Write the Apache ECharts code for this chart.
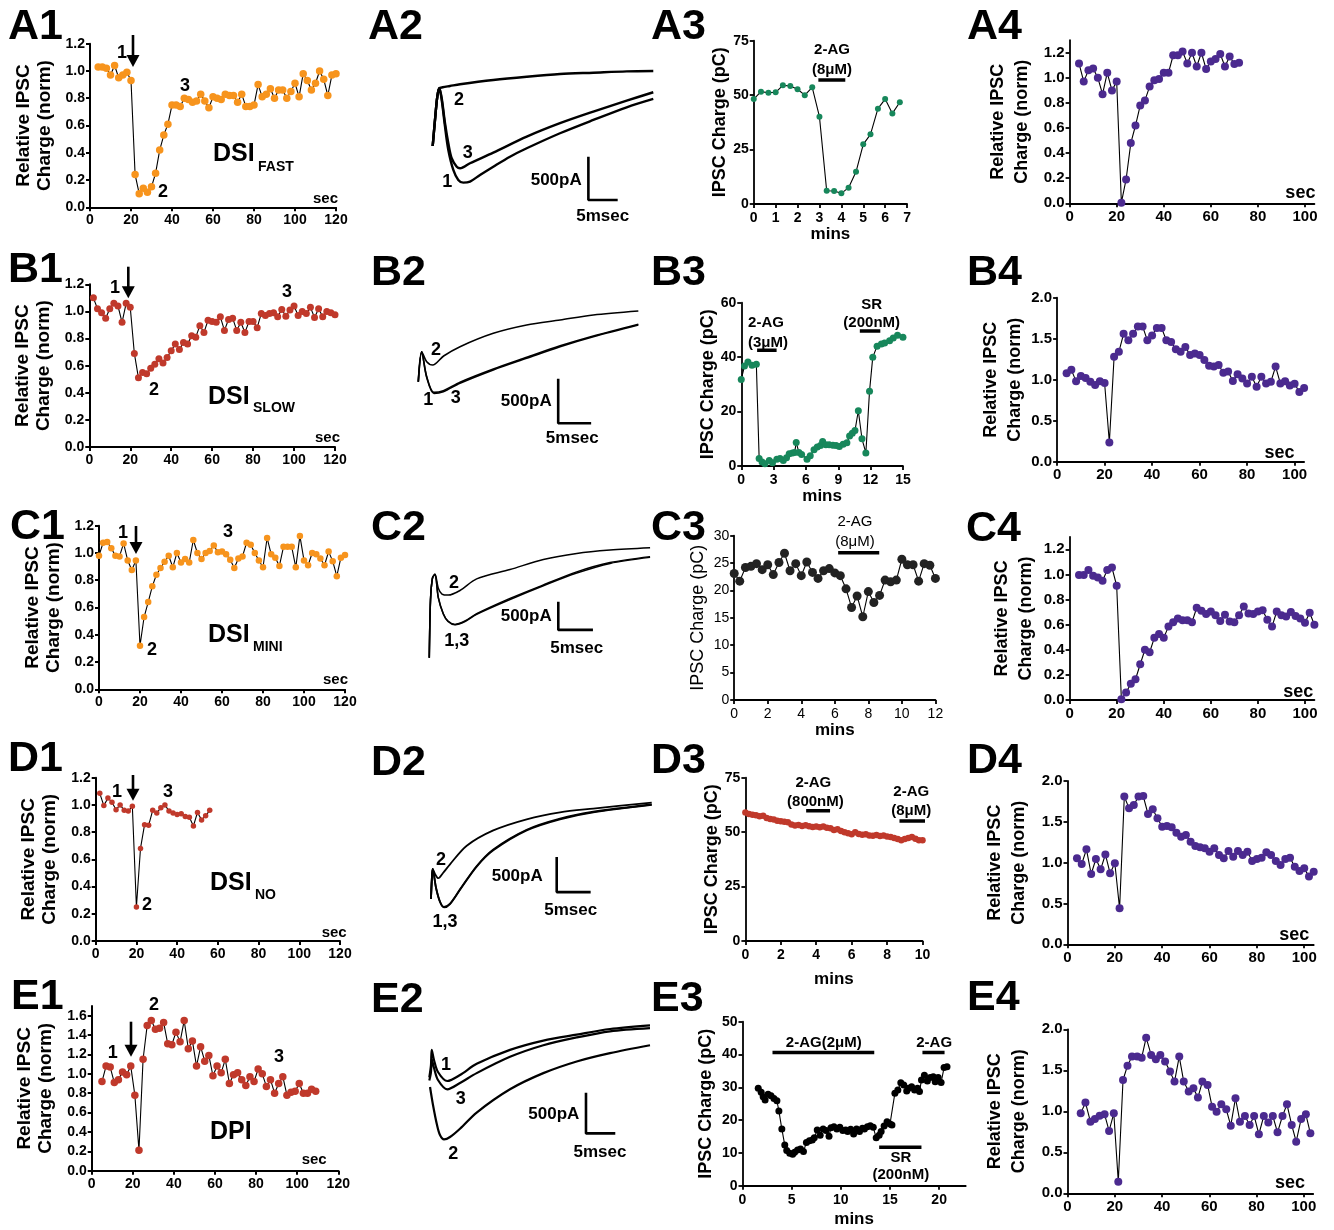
<!DOCTYPE html>
<html><head><meta charset="utf-8">
<script src="https://cdn.jsdelivr.net/npm/echarts@6/dist/echarts.min.js"></script>
<style>html,body{margin:0;padding:0;background:#fff}#c{width:1334px;height:1230px}</style>
</head><body><div id="c"></div>
<script>
// ===================== DATA =====================
// Column 1: relative IPSC charge (norm) vs time (sec)
const A1_x = [4,6,8,10,12,14,16,18,20,22,24,26,28,30,32,34,36,38,40,42,44,46,48,50,52,54,56,58,60,62,64,66,68,70,72,74,76,78,80,82,84,86,88,90,92,94,96,98,100,102,104,106,108,110,112,114,116,118,120];
const A1_y = [1.03,1.03,1.02,0.97,1.04,0.95,0.97,0.99,0.93,0.24,0.10,0.14,0.11,0.15,0.25,0.42,0.53,0.61,0.75,0.75,0.74,0.80,0.79,0.77,0.78,0.83,0.78,0.73,0.81,0.80,0.79,0.83,0.82,0.82,0.77,0.83,0.74,0.74,0.75,0.90,0.81,0.83,0.87,0.80,0.86,0.86,0.80,0.85,0.91,0.81,0.98,0.93,0.86,0.91,1.00,0.94,0.82,0.97,0.98];
const B1_x = [2,4,6,8,10,12,14,16,18,20,22,24,26,28,30,32,34,36,38,40,42,44,46,48,50,52,54,56,58,60,62,64,66,68,70,72,74,76,78,80,82,84,86,88,90,92,94,96,98,100,102,104,106,108,110,112,114,116,118,120];
const B1_y = [1.10,1.02,0.99,0.95,1.02,1.06,1.04,0.92,1.06,1.03,0.69,0.51,0.55,0.54,0.58,0.61,0.65,0.62,0.66,0.71,0.76,0.72,0.77,0.76,0.82,0.81,0.895,0.845,0.935,0.925,0.92,0.96,0.86,0.94,0.95,0.86,0.92,0.845,0.925,0.925,0.88,0.985,0.97,0.985,0.99,0.96,1.015,0.965,1.01,1.04,0.97,1.0,0.985,1.03,0.955,1.02,0.96,1.0,0.99,0.975];
const C1_x = [0,2,4,6,8,10,12,14,16,18,20,22,24,26,28,30,32,34,36,38,40,42,44,46,48,50,52,54,56,58,60,62,64,66,68,70,72,74,76,78,80,82,84,86,88,90,92,94,96,98,100,102,104,106,108,110,112,114,116,118,120];
const C1_y = [0.98,1.075,1.08,1.035,0.98,0.975,1.07,0.945,0.875,0.945,0.32,0.53,0.64,0.755,0.84,0.89,0.935,0.98,0.895,1.0,0.93,0.955,0.93,1.095,1.0,0.955,1.0,1.015,1.055,1.005,1.01,0.99,0.95,0.89,0.96,0.975,1.075,1.06,1.0,0.945,0.895,1.11,0.99,0.965,0.905,1.045,1.045,1.045,0.895,1.125,0.945,0.91,1.0,0.99,0.96,0.91,1.01,0.94,0.83,0.965,0.985];
const D1_x = [2,4,6,8,10,12,14,16,18,20,22,24,26,28,30,32,34,36,38,40,42,44,46,48,50,52,54,56];
const D1_y = [1.085,0.995,1.05,1.02,0.965,1.0,0.96,0.955,0.99,0.25,0.68,0.855,0.85,0.96,0.94,0.98,1.0,0.955,0.94,0.93,0.935,0.915,0.91,0.845,0.945,0.89,0.92,0.96];
const E1_x = [5,7,9,11,13,15,17,19,21,23,25,27,29,31,33,35,37,39,41,43,45,47,49,51,53,55,57,59,61,63,65,67,69,71,73,75,77,79,81,83,85,87,89,91,93,95,97,99,101,103,105,107,109];
const E1_y = [0.92,1.08,1.07,0.91,0.94,1.02,0.99,1.08,0.78,0.21,1.15,1.50,1.55,1.46,1.47,1.53,1.31,1.30,1.43,1.33,1.55,1.26,1.34,1.08,1.28,1.13,1.19,0.98,1.08,1.01,1.15,0.90,0.99,1.01,0.94,0.88,0.97,0.92,1.05,1.00,0.87,0.94,0.80,0.90,0.97,0.78,0.81,0.82,0.90,0.80,0.80,0.84,0.82];

// Column 3: IPSC charge (pC) vs time (mins)
const A3_x = [0,0.33,0.67,1,1.33,1.67,2,2.33,2.67,3,3.33,3.67,4,4.33,4.67,5,5.33,5.67,6,6.33,6.67];
const A3_y = [48.2,51.6,51.1,51.3,54.5,54.2,52.7,50.0,53.6,40.1,6.1,6.0,4.9,7.5,14.8,27.4,32.0,43.8,48.2,41.6,46.7];
const B3_x = [0,0.3,0.62,1.0,1.4,1.66,1.93,2.2,2.6,2.9,3.3,3.6,3.9,4.2,4.45,4.75,4.95,5.1,5.35,5.6,6.1,6.4,6.75,7.05,7.35,7.55,7.85,8.15,8.5,8.8,9.1,9.45,9.8,10.05,10.3,10.55,10.86,11.2,11.56,11.9,12.2,12.6,13.0,13.3,13.76,14.1,14.5,15.0];
const B3_y = [31.8,36.7,38.2,37.0,37.4,2.8,1.5,0.8,2.0,1.2,2.5,2.8,2.0,3.0,4.5,4.8,5.0,8.6,5.0,4.2,2.5,3.8,6.0,7.0,7.5,9.0,7.8,7.8,7.6,7.5,7.2,8.0,8.5,11.0,12.0,13.0,20.3,10.0,4.8,27.5,40.0,44.0,44.8,45.2,46.0,47.0,48.0,47.3];
const C3_x = [0,0.33,0.67,1,1.33,1.67,2,2.33,2.67,3,3.33,3.67,4,4.33,4.67,5,5.33,5.67,6,6.33,6.67,7,7.33,7.67,8,8.33,8.67,9,9.33,9.67,10,10.33,10.67,11,11.33,11.67,12];
const C3_y = [23.1,21.7,24.2,24.4,24.9,23.8,24.7,22.9,25.1,26.8,23.6,24.9,22.7,25.2,23.3,22.2,23.6,24.0,23.2,22.7,20.3,16.9,19.0,15.2,19.8,17.8,19.1,21.9,21.6,21.9,25.7,24.7,24.7,21.7,24.9,24.6,22.2];
const D3_x = [0,0.2,0.4,0.6,0.8,1.0,1.2,1.4,1.6,1.8,2.0,2.2,2.4,2.6,2.8,3.0,3.2,3.4,3.6,3.8,4.0,4.2,4.4,4.6,4.8,5.0,5.2,5.4,5.6,5.8,6.0,6.2,6.4,6.6,6.8,7.0,7.2,7.4,7.6,7.8,8.0,8.2,8.4,8.6,8.8,9.0,9.2,9.4,9.6,9.8,10.0];
const D3_y = [59.0,58.3,58.0,57.8,57.3,57.5,56.5,56.0,55.8,55.2,55.0,54.8,54.5,53.5,53.0,53.3,52.8,53.2,52.7,52.4,52.6,52.3,52.6,52.0,51.8,51.0,51.3,50.5,50.0,49.5,49.0,50.0,49.2,48.8,49.0,48.5,48.3,48.7,48.2,48.5,48.0,47.8,47.3,46.8,46.3,46.8,47.3,47.8,47.0,46.3,46.3];
const E3_x = [1.6,1.9,2.1,2.3,2.6,2.9,3.2,3.5,3.7,4.0,4.3,4.5,4.8,5.1,5.3,5.6,5.9,6.2,6.5,6.8,7.1,7.3,7.6,7.9,8.2,8.5,8.8,9.0,9.3,9.6,9.9,10.2,10.5,10.7,11.0,11.3,11.6,11.9,12.2,12.4,12.7,13.0,13.3,13.6,13.9,14.1,14.4,14.7,15.0,15.2,15.5,15.8,16.1,16.4,16.7,16.9,17.2,17.5,17.8,18.0,18.2,18.5,18.8,19.1,19.4,19.6,19.9,20.2,20.5,20.8];
const E3_y = [29.7,28.5,27.1,26.1,27.9,27.4,26.6,25.9,22.8,17.3,12.4,10.7,9.9,9.6,10.2,10.9,11.2,10.4,13.2,13.7,13.9,14.6,17.0,15.4,17.3,16.8,15.1,17.7,18.0,17.3,17.8,16.8,17.0,16.5,17.2,15.8,17.3,16.5,17.5,17.3,18.0,18.3,17.8,14.6,15.4,16.5,18.2,19.5,18.8,18.5,28.2,29.2,31.4,30.7,28.9,29.7,30.2,29.2,29.7,28.7,32.2,33.7,31.9,33.0,33.2,31.7,33.0,31.5,36.0,36.3];
// drug application bars: [start, end, level]
const A3_drug = [[2.95,4.18,57]];
const B3_drug = [[1.47,3.28,42.5],[11.0,12.9,49.6]];
const C3_drug = [[6.2,8.65,26.9]];
const D3_drug = [[3.43,4.78,59.8],[8.7,10.24,55.1]];
const E3_drug = [[3.05,13.4,40.6],[18.3,20.55,40.6],[13.9,18.2,11.7]];

// Column 4: relative IPSC charge (norm) vs time (sec)
const A4_x = [4,6,8,10,12,14,16,18,20,22,24,26,28,30,32,34,36,38,40,42,44,46,48,50,52,54,56,58,60,62,64,66,68,70,72];
const A4_y = [1.115,0.97,1.06,1.075,1.0,0.87,1.04,0.90,0.97,0.005,0.19,0.48,0.62,0.78,0.82,0.93,0.98,0.99,1.04,1.04,1.18,1.18,1.21,1.115,1.20,1.09,1.20,1.07,1.13,1.15,1.19,1.09,1.17,1.11,1.12];
const X4_104 = [4,6,8,10,12,14,16,18,20,22,24,26,28,30,32,34,36,38,40,42,44,46,48,50,52,54,56,58,60,62,64,66,68,70,72,74,76,78,80,82,84,86,88,90,92,94,96,98,100,102,104];
const B4_y = [1.08,1.12,0.98,1.045,1.02,0.975,0.935,0.98,0.96,0.235,1.28,1.34,1.56,1.48,1.56,1.65,1.65,1.48,1.54,1.63,1.63,1.48,1.46,1.37,1.34,1.40,1.30,1.32,1.30,1.24,1.17,1.16,1.18,1.085,1.10,0.985,1.065,1.015,0.955,1.035,0.915,1.035,0.955,0.975,1.16,0.955,0.98,0.93,0.95,0.85,0.90];
const C4_y = [0.995,0.995,1.035,0.99,0.975,0.95,1.035,1.055,0.91,0.005,0.06,0.13,0.165,0.285,0.40,0.38,0.495,0.525,0.495,0.585,0.62,0.65,0.635,0.635,0.62,0.735,0.71,0.685,0.705,0.675,0.63,0.68,0.625,0.62,0.675,0.745,0.69,0.685,0.705,0.715,0.64,0.585,0.705,0.675,0.665,0.70,0.67,0.65,0.615,0.695,0.60];
const D4_y = [1.053,0.984,1.163,0.861,1.045,0.918,1.10,0.869,0.992,0.44,1.81,1.665,1.706,1.81,1.816,1.596,1.653,1.543,1.44,1.449,1.433,1.367,1.318,1.339,1.257,1.204,1.188,1.176,1.135,1.176,1.094,1.053,1.143,1.073,1.143,1.094,1.135,1.02,1.045,1.061,1.127,1.094,1.02,0.971,1.045,1.061,0.951,0.898,0.931,0.829,0.89];
const E4_x = [5.6,7.6,9.7,11.6,13.6,15.7,17.6,19.6,21.5,23.5,25.4,27.3,29.5,31.4,33.3,35.4,37.4,39.3,41.3,43.4,45.3,47.3,49.2,51.3,53.3,55.2,57.1,59.3,61.2,63.1,65.1,67.2,69.1,71.1,73.0,75.1,77.1,79.0,81.0,83.1,85.0,86.9,88.9,91.0,92.9,94.9,96.8,98.9,100.9,102.8];
const E4_y = [0.976,1.106,0.874,0.907,0.947,0.963,0.76,0.976,0.142,1.382,1.557,1.667,1.667,1.654,1.898,1.687,1.634,1.687,1.606,1.484,1.362,1.667,1.362,1.24,1.28,1.167,1.362,1.321,1.057,0.996,1.085,1.024,0.825,1.159,0.874,0.943,0.833,0.943,0.72,0.943,0.862,0.943,0.744,0.943,1.085,0.833,0.63,0.907,0.963,0.732];

// Column 2: example IPSC traces [msec, pA]
const A2_1 = [[0,-893],[0.41,-583],[0.82,-306],[1.18,-206],[1.61,-345],[2.2,-663],[2.79,-940],[3.68,-1178],[4.57,-1297],[5.46,-1329],[6.66,-1317],[8.45,-1238],[10.82,-1139],[13.8,-1020],[16.79,-920],[22.73,-741],[28.68,-583],[34.64,-432],[39.39,-333]];
const A2_2 = [[0,-893],[0.41,-583],[0.82,-306],[1.18,-206],[1.79,-194],[3.09,-179],[4.88,-158],[10.82,-107],[16.79,-68],[22.73,-36],[28.68,-20],[34.64,-4],[39.39,0]];
const A2_3 = [[0,-893],[0.41,-583],[0.82,-306],[1.18,-206],[1.61,-325],[2.2,-622],[2.79,-860],[3.39,-1039],[4.29,-1139],[4.88,-1158],[6.66,-1098],[10.82,-972],[16.79,-782],[22.73,-622],[28.68,-484],[34.64,-353],[39.39,-253]];
const B2_1 = [[0,-817],[0.54,-470],[1.3,-760],[2.48,-951],[3.95,-932],[6.59,-835],[11.85,-681],[17.12,-546],[22.4,-412],[27.65,-297],[34.76,-162]];
const B2_2 = [[0,-817],[0.54,-470],[1.33,-586],[2.27,-624],[4.0,-520],[6.59,-412],[11.85,-258],[17.12,-162],[22.4,-104],[27.65,-46],[34.76,0]];
const B2_3 = [[0,-817],[0.54,-470],[1.3,-750],[2.48,-940],[3.95,-920],[6.59,-822],[11.85,-670],[17.12,-535],[22.4,-402],[27.65,-288],[34.76,-152]];
const C2_1 = [[0,-2045],[0.18,-970],[0.48,-561],[0.85,-491],[1.35,-922],[2.1,-1225],[2.8,-1361],[3.85,-1424],[5.35,-1361],[7.1,-1225],[12.1,-941],[17.1,-690],[22.1,-448],[27.1,-275],[33.1,-164]];
const C2_2 = [[0,-2045],[0.18,-970],[0.48,-561],[0.85,-491],[1.35,-751],[1.9,-859],[2.85,-879],[4.6,-794],[7.1,-578],[12.1,-405],[17.1,-216],[22.1,-104],[27.1,-43],[33.1,0]];
const C2_3 = [[0,-2045],[0.18,-970],[0.48,-561],[0.85,-491],[1.35,-930],[2.1,-1230],[2.8,-1370],[3.85,-1430],[5.35,-1370],[7.1,-1235],[12.1,-960],[17.1,-705],[22.1,-470],[27.1,-290],[33.1,-178]];
const D2_1 = [[0,-1423],[0.12,-1142],[0.26,-978],[0.77,-1260],[1.38,-1466],[1.99,-1546],[2.91,-1496],[4.44,-1286],[7.0,-944],[9.54,-704],[14.65,-410],[19.75,-246],[24.85,-143],[33.8,-34]];
const D2_2 = [[0,-1423],[0.12,-1142],[0.26,-978],[0.61,-1053],[1.12,-1115],[1.84,-1038],[2.91,-910],[5.47,-636],[9.54,-410],[14.65,-246],[19.75,-143],[24.85,-88],[33.8,0]];
const D2_3 = [[0,-1423],[0.12,-1142],[0.26,-978],[0.77,-1255],[1.38,-1460],[1.99,-1540],[2.91,-1490],[4.44,-1280],[7.0,-935],[9.54,-690],[14.65,-400],[19.75,-236],[24.85,-135],[33.8,-28]];
const E2_1 = [[0,-660],[0.3,-504],[0.43,-312],[0.84,-440],[1.55,-593],[3.21,-707],[5.48,-631],[8.46,-489],[14.41,-312],[20.36,-194],[26.32,-118],[32.27,-47],[39.41,0]];
const E2_2 = [[0.13,-783],[0.66,-1011],[1.38,-1266],[1.91,-1393],[2.63,-1448],[3.7,-1418],[5.48,-1313],[8.46,-1107],[14.41,-812],[20.36,-607],[26.32,-459],[32.27,-353],[39.41,-253]];
const E2_3 = [[0,-700],[0.3,-593],[0.43,-430],[0.84,-542],[1.55,-694],[3.21,-812],[5.48,-732],[8.46,-607],[14.41,-400],[20.36,-253],[26.32,-154],[32.27,-76],[39.41,-36]];
// scale-bar corner [msec, pA] and sizes
const SCALE_PA = 500, SCALE_MS = 5;
const A2_bar = [27.8,-1535], B2_bar = [22.1,-1297], C2_bar = [19.34,-1526], D2_bar = [19.25,-1320], E2_bar = [27.98,-1372];

// Tick values
const T_SEC120 = [0,20,40,60,80,100,120];
const T_SEC100 = [0,20,40,60,80,100];
const T_NORM12 = [0,0.2,0.4,0.6,0.8,1.0,1.2];
const T_NORM16 = [0,0.2,0.4,0.6,0.8,1.0,1.2,1.4,1.6];
const T_NORM20 = [0,0.5,1.0,1.5,2.0];
const A3_xt = [0,1,2,3,4,5,6,7], A3_yt = [0,25,50,75];
const B3_xt = [0,3,6,9,12,15], B3_yt = [0,20,40,60];
const C3_xt = [0,2,4,6,8,10,12], C3_yt = [0,5,10,15,20,25,30];
const D3_xt = [0,2,4,6,8,10], D3_yt = [0,25,50,75];
const E3_xt = [0,5,10,15,20], E3_yt = [0,10,20,30,40,50];

// ===================== CHART =====================
const FONT = '"Liberation Sans", Arial, Helvetica, sans-serif';
const C_OR = '#F7941D', C_RED = '#C0392B', C_GRN = '#17875B', C_PUR = '#4B2A8F';
const grids = [], xAxes = [], yAxes = [], series = [], graphic = [];
const ts = (fs, fw) => ({color:'#000', fontSize:fs, fontWeight:fw, fontFamily:FONT});

function addPlot(o){
  const gi = grids.length;
  grids.push({left:o.left, top:o.top, width:o.w, height:o.h});
  xAxes.push({gridIndex:gi, type:'value', min:0, max:o.xmax,
    axisLine:{show:true, onZero:false, lineStyle:{color:'#000', width:o.lw}},
    axisTick:{show:true, length:4, customValues:o.xt, lineStyle:{color:'#000', width:o.lw}},
    axisLabel:{show:true, customValues:o.xt, margin:o.xm, ...ts(o.fs,o.fw), formatter:v=>String(v)},
    splitLine:{show:false},
    name:o.xname||'', nameLocation:'middle', nameGap:o.xgap||0, nameTextStyle:ts(17,'bold')});
  yAxes.push({gridIndex:gi, type:'value', min:0, max:o.ymax,
    axisLine:{show:true, onZero:false, lineStyle:{color:'#000', width:o.lw}},
    axisTick:{show:true, length:4, customValues:o.yt, lineStyle:{color:'#000', width:o.lw}},
    axisLabel:{show:true, customValues:o.yt, margin:o.ym, ...ts(o.fs,o.fw), formatter:v=>v.toFixed(o.yd)},
    splitLine:{show:false},
    name:o.yname, nameLocation:'middle', nameGap:o.ygap, nameTextStyle:{...ts(o.ynfs,o.ynfw||'bold'), lineHeight:o.ylh}});
  series.push({type:'line', xAxisIndex:gi, yAxisIndex:gi, data:o.xs.map((x,i)=>[x,o.ys[i]]),
    symbol:'circle', symbolSize:o.ss, showSymbol:true, showAllSymbol:true, clip:false,
    lineStyle:{color:'#000', width:1.1}, itemStyle:{color:o.color}, emphasis:{disabled:true}, silent:true});
  (o.drug||[]).forEach(d => series.push({type:'line', xAxisIndex:gi, yAxisIndex:gi, data:[[d[0],d[2]],[d[1],d[2]]],
    showSymbol:false, clip:false, lineStyle:{color:'#000', width:3.5}, silent:true}));
  return gi;
}

function addTrace(o){
  const gi = grids.length;
  grids.push({left:o.left, top:o.top, width:o.xmax*o.pxms, height:-o.ymin*o.pxpa});
  xAxes.push({gridIndex:gi, type:'value', min:0, max:o.xmax, show:false});
  yAxes.push({gridIndex:gi, type:'value', min:o.ymin, max:0, show:false});
  o.traces.forEach(tr => series.push({type:'line', xAxisIndex:gi, yAxisIndex:gi, data:tr, showSymbol:false,
    smooth:0.3, clip:false, lineStyle:{color:'#000', width:o.tw}, silent:true}));
  const sx = o.bar[0], sy = o.bar[1];
  series.push({type:'line', xAxisIndex:gi, yAxisIndex:gi, data:[[sx,sy+SCALE_PA],[sx,sy],[sx+SCALE_MS,sy]],
    showSymbol:false, clip:false, lineStyle:{color:'#000', width:2.6, cap:'square'}, silent:true});
}

function txt(text, x, y, fs, align, fw){
  graphic.push({type:'text', x:x, y:y, silent:true, z:100,
    style:{text:text, fill:'#000', fontSize:fs, fontWeight:fw||'bold', fontFamily:FONT,
      align:align||'center', verticalAlign:'middle'}});
}
function arrow(x, y1, y2){
  graphic.push({type:'line', silent:true, z:100, shape:{x1:x, y1:y1, x2:x, y2:y2-8}, style:{stroke:'#000', lineWidth:2.6}});
  graphic.push({type:'polygon', silent:true, z:100, shape:{points:[[x-6.5,y2-12],[x+6.5,y2-12],[x,y2]]}, style:{fill:'#000'}});
}

const NORM = 'Relative IPSC\nCharge (norm)', PC = 'IPSC Charge (pC)';
const c1 = {xmax:120, xt:T_SEC120, yt:T_NORM12, yd:1, fs:14, fw:'bold', lw:2, xm:6, ym:5, yname:NORM, ygap:35, ynfs:19, ylh:21};
const c3 = {yd:0, fs:14, fw:'bold', lw:1.8, xm:7, ym:5, yname:PC, ynfs:18, xname:'mins'};
const c4 = {xmax:104, xt:T_SEC100, yd:1, fs:15, fw:'bold', lw:1.8, xm:6, ym:5, yname:NORM, ynfs:18, ylh:24, color:C_PUR, ss:8};

// Column 1
addPlot({...c1, left:90, top:43.7, w:246, h:163.6, ymax:1.2, xs:A1_x, ys:A1_y, color:C_OR, ss:7.5});
addPlot({...c1, left:89.3, top:284.3, w:245.7, h:162.7, ymax:1.2, xs:B1_x, ys:B1_y, color:C_RED, ss:7});
addPlot({...c1, left:99, top:525.7, w:246, h:163.6, ymax:1.2, xs:C1_x, ys:C1_y, color:C_OR, ss:6.5});
addPlot({...c1, left:95.7, top:777.7, w:244.3, h:163.3, ymax:1.2, xs:D1_x, ys:D1_y, color:C_RED, ss:5.5});
addPlot({...c1, left:91.7, top:1006, w:246.6, h:164.7, ymax:1.7, yt:T_NORM16, xs:E1_x, ys:E1_y, color:C_RED, ss:7.5});

// Column 3
addPlot({...c3, left:753.75, top:40.7, w:153.3, h:163.3, xmax:7, ymax:75, xt:A3_xt, yt:A3_yt, xs:A3_x, ys:A3_y, color:C_GRN, ss:6, ygap:23, xgap:22, drug:A3_drug});
addPlot({...c3, left:741.25, top:302.7, w:161.7, h:163.3, xmax:15, ymax:60, xt:B3_xt, yt:B3_yt, xs:B3_x, ys:B3_y, color:C_GRN, ss:7, ygap:20, xgap:21, drug:B3_drug});
addPlot({...c3, left:734.2, top:535.7, w:201.2, h:164.3, xmax:12, ymax:30, xt:C3_xt, yt:C3_yt, xs:C3_x, ys:C3_y, color:'#222', ss:9, fw:'normal', ynfw:'normal', ygap:27, xgap:17, drug:C3_drug});
addPlot({...c3, left:745.4, top:777.7, w:177.1, h:163.3, xmax:10, ymax:75, xt:D3_xt, yt:D3_yt, xs:D3_x, ys:D3_y, color:C_RED, ss:6.5, ygap:18, xgap:30, drug:D3_drug});
addPlot({...c3, left:742.5, top:1021.7, w:223.2, h:164, xmax:22.7, ymax:50, xt:E3_xt, yt:E3_yt, xs:E3_x, ys:E3_y, color:'#000', ss:7, ygap:27, xgap:25, drug:E3_drug});

// Column 4
addPlot({...c4, left:1069.6, top:40.2, w:244.8, h:163.1, ymax:1.3, yt:T_NORM12, xs:A4_x, ys:A4_y, ygap:36});
addPlot({...c4, left:1057.1, top:297.7, w:247, h:164, ymax:2, yt:T_NORM20, xs:X4_104, ys:B4_y, ygap:30});
addPlot({...c4, left:1069.6, top:536.8, w:244.8, h:163.2, ymax:1.3, yt:T_NORM12, xs:X4_104, ys:C4_y, ygap:32});
addPlot({...c4, left:1067.5, top:781, w:246.2, h:163.3, ymax:2, yt:T_NORM20, xs:X4_104, ys:D4_y, ygap:36});
addPlot({...c4, left:1067.5, top:1029.3, w:245.7, h:164, ymax:2, yt:T_NORM20, xs:E4_x, ys:E4_y, ygap:36});

// Column 2 traces
addTrace({left:432.7, top:71, xmax:40, pxms:5.6, ymin:-1700, pxpa:0.084, traces:[A2_1,A2_2,A2_3], bar:A2_bar, tw:2.4});
addTrace({left:418.3, top:311, xmax:40, pxms:6.33, ymin:-1400, pxpa:0.0866, traces:[B2_1,B2_2,B2_3], bar:B2_bar, tw:1.6});
addTrace({left:429.3, top:547.8, xmax:35, pxms:6.67, ymin:-2200, pxpa:0.0538, traces:[C2_1,C2_2,C2_3], bar:C2_bar, tw:1.5});
addTrace({left:431, top:802.6, xmax:35, pxms:6.53, ymin:-1700, pxpa:0.0678, traces:[D2_1,D2_2,D2_3], bar:D2_bar, tw:1.8});
addTrace({left:429.3, top:1025.3, xmax:40, pxms:5.6, ymin:-1600, pxpa:0.0788, traces:[E2_1,E2_2,E2_3], bar:E2_bar, tw:2.2});

// Panel letters
[['A1',8,27],['A2',368,27],['A3',651,27],['A4',967,27],
 ['B1',8,270],['B2',371,273],['B3',651,273],['B4',967,273],
 ['C1',10,527],['C2',371,528],['C3',651,528],['C4',966,529],
 ['D1',8,759],['D2',371,763],['D3',651,761],['D4',967,761],
 ['E1',11,997],['E2',371,1000],['E3',651,999],['E4',967,998]].forEach(p => txt(p[0], p[1], p[2], 43, 'left'));

// Column 1 annotations
const mk = (a) => a.forEach(t => txt(t[0], t[1], t[2], 18));
mk([['1',122,53],['2',163,192],['3',185,86]]); arrow(133,35,67);
mk([['1',115,288],['2',154,390],['3',287,292]]); arrow(128.3,266.7,298.3);
mk([['1',123,533],['2',152,650],['3',228,532]]); arrow(136,526,554);
mk([['1',117,792],['2',147,905],['3',168,792]]); arrow(133,775,800.7);
mk([['1',112.7,1053],['2',154,1005],['3',279,1056.7]]); arrow(131,1021.7,1056.7);
txt('DSI',213,154,25,'left'); txt('FAST',258,167,14,'left');
txt('DSI',208,397,25,'left'); txt('SLOW',253,408,14,'left');
txt('DSI',208,635,25,'left'); txt('MINI',253,647,14,'left');
txt('DSI',210,883,25,'left'); txt('NO',255,895,14,'left');
txt('DPI',210,1132,25,'left');
[[338,199],[340,438.3],[348,680],[346.7,932.7],[326.7,1160]].forEach(s => txt('sec', s[0], s[1], 15, 'right'));
[[1315.4,193.3],[1294.6,453.3],[1313.3,691.7],[1309.2,935],[1305,1183.3]].forEach(s => txt('sec', s[0], s[1], 18, 'right'));

// Column 2 annotations
mk([['2',459,100],['3',467.7,153.3],['1',447.3,181.7]]);
mk([['2',436,350],['1',428.3,400],['3',455.7,398.3]]);
mk([['2',454,582.6],['1,3',456.7,641.5]]);
mk([['2',441,859.6],['1,3',445,922.3]]);
mk([['1',446,1065.2],['3',460.7,1098.6],['2',453.3,1154.3]]);
[[581.7,180,602.7,216],[551.7,401.7,572.3,438.3],[551.7,616,576.7,648.5],[542.7,875.9,570.7,910.7],[579.3,1114.8,600,1152]].forEach(s => {
  txt(SCALE_PA+'pA', s[0], s[1], 17, 'right'); txt(SCALE_MS+'msec', s[2], s[3], 17, 'center');
});

// Column 3 annotations
txt('2-AG',832,50,15); txt('(8\u03bcM)',832,70,15);
txt('2-AG',766,323.3,15); txt('(3\u03bcM)',768,343.3,15); txt('SR',871.7,305,15); txt('(200nM)',871.7,323.3,15);
txt('2-AG',855,521.7,15,'center','normal'); txt('(8\u03bcM)',855,541.7,15,'center','normal');
txt('2-AG',813.3,783.3,15); txt('(800nM)',815.4,801.7,15); txt('2-AG',911.25,791.7,15); txt('(8\u03bcM)',911.25,810.7,15);
txt('2-AG(2\u03bcM)',823.75,1043.3,15); txt('2-AG',934.2,1043.3,15); txt('SR',900.8,1157.7,15); txt('(200nM)',900.8,1175,15);

const chart = echarts.init(document.getElementById('c'), null, {renderer:'canvas'});
chart.setOption({animation:false, backgroundColor:'#fff', grid:grids, xAxis:xAxes, yAxis:yAxes, series:series, graphic:graphic});
</script></body></html>
